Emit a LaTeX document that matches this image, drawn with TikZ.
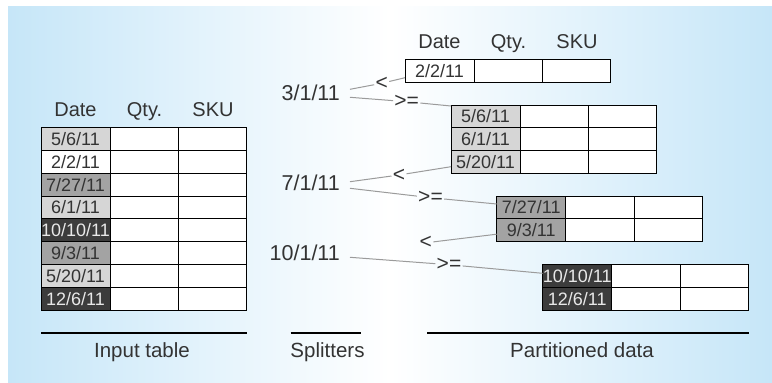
\documentclass[tikz,border=0pt]{standalone}
\usepackage{fontspec}
\setmainfont{Liberation Sans}
\usetikzlibrary{calc}

\definecolor{bgblue}{RGB}{198,230,248}
\definecolor{ink}{RGB}{51,51,51}
\definecolor{celllite}{RGB}{214,214,214}
\definecolor{cellmid}{RGB}{163,163,163}
\definecolor{celldark}{RGB}{60,60,60}
\definecolor{darktext}{RGB}{232,232,232}
\definecolor{wire}{RGB}{155,155,155}

\tikzset{
  cell/.style={draw=black, line width=1pt, minimum width=68.3pt, minimum height=22.8pt,
    inner sep=0pt, outer sep=0pt, anchor=north west,
    font=\fontsize{18}{18}\selectfont, text height=12.8pt, text depth=0pt},
  blank/.style={fill=white},
  lite/.style={fill=celllite, text=ink},
  mid/.style={fill=cellmid, text=ink},
  dark/.style={fill=celldark, text=darktext},
  plainrow/.style={fill=white, text=ink},
  head/.style={anchor=base, text=ink, inner sep=0pt, font=\fontsize{20}{20}\selectfont},
  split/.style={anchor=base east, text=ink, inner sep=0pt, font=\fontsize{21.5}{21.5}\selectfont},
  cmp/.style={text=ink, inner sep=1.2pt, font=\fontsize{21}{21}\selectfont},
  caption/.style={anchor=base, text=ink, inner sep=0pt, font=\fontsize{20.5}{20.5}\selectfont},
  wireline/.style={draw=wire, line width=1pt},
  rule/.style={draw=black, line width=2pt},
}

% one table row: name, x, y (top), fill style, date
\newcommand\datarow[5]{%
  \node[cell,#4,minimum width=69pt] (#1-d) at (#2,#3) {#5};
  \node[cell,blank] (#1-q) at ({#2+69},#3) {};
  \node[cell,blank] (#1-s) at ({#2+137.3},#3) {};
}
% column headings above a table whose top-left corner is (x,y)
\newcommand\heads[3]{%
  \node[head] (#1-h1) at ({#2+34.5},{#3-11}) {Date};
  \node[head] (#1-h2) at ({#2+103.5},{#3-11}) {Qty.};
  \node[head] (#1-h3) at ({#2+172},{#3-11}) {SKU};
}

\begin{document}
\begin{tikzpicture}[x=1pt,y=-1pt]
  \useasboundingbox (0,0) rectangle (772,383);
  \fill[white] (0,0) rectangle (772,383);
  \shade[left color=bgblue, right color=bgblue, middle color=white] (8,6) rectangle (772,383);

  % input table
  \heads{in}{41}{127.7}
  \datarow{in1}{41}{127.7}{lite}{5/6/11}
  \datarow{in2}{41}{150.5}{plainrow}{2/2/11}
  \datarow{in3}{41}{173.3}{mid}{7/27/11}
  \datarow{in4}{41}{196.1}{lite}{6/1/11}
  \datarow{in5}{41}{218.9}{dark}{10/10/11}
  \datarow{in6}{41}{241.7}{mid}{9/3/11}
  \datarow{in7}{41}{264.5}{lite}{5/20/11}
  \datarow{in8}{41}{287.3}{dark}{12/6/11}

  % partitions
  \heads{pa}{405}{59.3}
  \datarow{t1}{405}{59.3}{plainrow}{2/2/11}

  \datarow{t2a}{451}{105}{lite}{5/6/11}
  \datarow{t2b}{451}{127.8}{lite}{6/1/11}
  \datarow{t2c}{451}{150.6}{lite}{5/20/11}

  \datarow{t3a}{496.7}{196}{mid}{7/27/11}
  \datarow{t3b}{496.7}{218.8}{mid}{9/3/11}

  \datarow{t4a}{542.7}{264.5}{dark}{10/10/11}
  \datarow{t4b}{542.7}{287.3}{dark}{12/6/11}

  % splitters
  \node[split] (s1) at (340,100) {3/1/11};
  \node[split] (s2) at (340,190.7) {7/1/11};
  \node[split] (s3) at (340,260) {10/1/11};

  \coordinate (s1a) at (350,89.3);
  \coordinate (s1b) at (350,97.3);
  \coordinate (s2a) at (350,181.7);
  \coordinate (s2b) at (350,188.3);
  \coordinate (s3b) at (350,257.3);

  % comparison marks
  \node[cmp] (c1) at (381.7,83.3) {<};
  \node[cmp] (c2) at (406.7,101.7) {>=};
  \node[cmp] (c3) at (399,175) {<};
  \node[cmp] (c4) at (430.5,197.7) {>=};
  \node[cmp] (c5) at (425.8,242.8) {<};
  \node[cmp] (c6) at (449,264.7) {>=};

  % routing wires
  \draw[wireline] (s1a) -- (c1) -- ([yshift=-7pt]t1-d.west);
  \draw[wireline] (s1b) -- (c2) -- ([yshift=-1pt]t2a-d.north west);
  \draw[wireline] (s2a) -- (c3) -- ([yshift=-4.7pt]t2c-d.west);
  \draw[wireline] (s2b) -- (c4) -- ([yshift=3.4pt]t3a-d.west);
  \draw[wireline] (c5) -- ([yshift=-4pt]t3b-d.west);
  \draw[wireline] (s3b) -- (c6) -- ([yshift=2.6pt]t4a-d.west);

  % captions
  \draw[rule] (41,332.7) -- (247,332.7);
  \draw[rule] (290.7,332.7) -- (360.7,332.7);
  \draw[rule] (427.3,332.7) -- (749,332.7);
  \node[caption] (cap1) at (142,357.7) {Input table};
  \node[caption] (cap2) at (327.5,357.7) {Splitters};
  \node[caption] (cap3) at (582,357.7) {Partitioned data};
\end{tikzpicture}
\end{document}
